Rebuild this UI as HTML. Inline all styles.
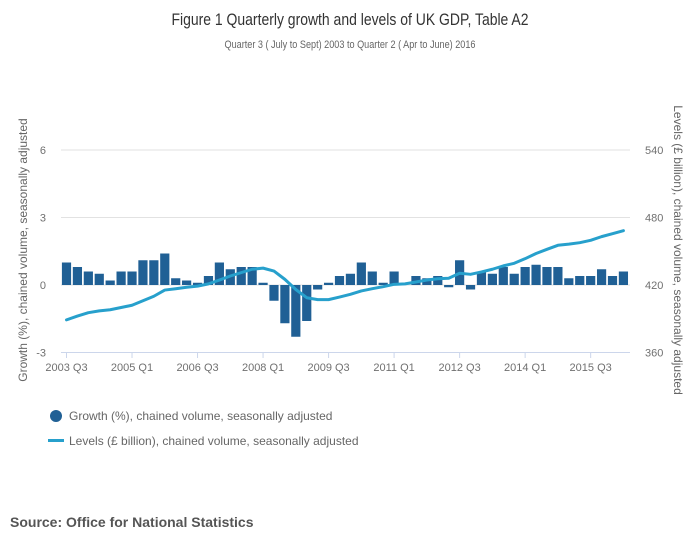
<!DOCTYPE html>
<html><head><meta charset="utf-8"><style>
body{margin:0;background:#fff;}
svg{display:block;font-family:"Liberation Sans",sans-serif;}
</style></head><body>
<svg id="chart" width="700" height="549" viewBox="0 0 700 549">
<text x="350" y="25" text-anchor="middle" font-size="16.5" fill="#333" textLength="357" lengthAdjust="spacingAndGlyphs">Figure 1 Quarterly growth and levels of UK GDP, Table A2</text>
<text x="350" y="48" text-anchor="middle" font-size="11" fill="#666" textLength="251" lengthAdjust="spacingAndGlyphs">Quarter 3 ( July to Sept) 2003 to Quarter 2 ( Apr to June) 2016</text>
<g id="grid"></g><g id="bars"></g><g id="line"></g><g id="axes"></g>
<text transform="translate(27,250) rotate(-90)" text-anchor="middle" font-size="12" fill="#666">Growth (%), chained volume, seasonally adjusted</text>
<text transform="translate(674,250) rotate(90)" text-anchor="middle" font-size="12" fill="#666">Levels (£ billion), chained volume, seasonally adjusted</text>
<g><circle cx="56" cy="416" r="6" fill="#206095"/><text x="69" y="420" font-size="12" fill="#666">Growth (%), chained volume, seasonally adjusted</text></g>
<g><rect x="48" y="439" width="16" height="3" fill="#27a0cc"/><text x="69" y="445" font-size="12" fill="#666">Levels (£ billion), chained volume, seasonally adjusted</text></g>
<text x="10" y="527" font-size="14" font-weight="bold" fill="#555">Source: Office for National Statistics</text>
</svg>
<script>
const growth=[1.0,0.8,0.6,0.5,0.2,0.6,0.6,1.1,1.1,1.4,0.3,0.2,0.1,0.4,1.0,0.7,0.8,0.8,0.1,-0.7,-1.7,-2.3,-1.6,-0.2,0.1,0.4,0.5,1.0,0.6,0.1,0.6,0.0,0.4,0.3,0.4,-0.1,1.1,-0.2,0.6,0.5,0.8,0.5,0.8,0.9,0.8,0.8,0.3,0.4,0.4,0.7,0.4,0.6];
const levels=[389,392.4,395.4,397,398,400,402,406,410,415.5,416.7,418,419,421,424.4,428,431,434,435,432.4,425,416,408.7,407,407,409.3,411.7,414.7,416.7,418.5,420.6,421,422.7,424.4,425.6,426,430.4,429.5,431.6,434,437,439.3,443.4,448,451.7,455.3,456.3,457.6,459.7,463,465.6,468.3];
const leftTicks=[-3,0,3,6];
const rightTicks=[360,420,480,540];
const xTickLabels=["2003 Q3","2005 Q1","2006 Q3","2008 Q1","2009 Q3","2011 Q1","2012 Q3","2014 Q1","2015 Q3"];
const NS="http://www.w3.org/2000/svg";
const X0=66.5,STEP=10.92;
const xs=i=>X0+i*STEP;
const yL=v=>285-v*22.5;
const yR=v=>285-(v-420)*1.125;
function mk(tag,attrs,parent){const e=document.createElementNS(NS,tag);for(const k in attrs)e.setAttribute(k,attrs[k]);document.getElementById(parent).appendChild(e);return e;}
leftTicks.forEach((t,k)=>{
  const y=yL(t);
  if(t!==-3){const g=mk('line',{x1:61,x2:630,y1:y,y2:y,stroke:'#e2e2e2','stroke-width':1},'grid');
  
  }
  const tl=mk('text',{x:46,y:y+4,'text-anchor':'end','font-size':11,fill:'#707070'},'axes');tl.textContent=t;
  
  
});
rightTicks.forEach(t=>{
  const tr=mk('text',{x:645,y:yR(t)+4,'font-size':11,fill:'#707070'},'axes');tr.textContent=t;
  
  
});
const ax=mk('line',{x1:61,x2:630,y1:352.5,y2:352.5,stroke:'#ccd6eb','stroke-width':1},'axes');


xTickLabels.forEach((l,k)=>{
  const x=xs(k*6);
  mk('line',{x1:x,x2:x,y1:352,y2:358,stroke:'#ccd6eb'},'axes');
  const t=mk('text',{x:x,y:371,'text-anchor':'middle','font-size':11,fill:'#707070'},'axes');t.textContent=l;
  
  
});
growth.forEach((v,i)=>{
  const y0=yL(0),y1=yL(v);
  const r=mk('rect',{x:xs(i)-4.6,width:9.2,y:Math.min(y0,y1),height:Math.max(Math.abs(y1-y0),0.01),fill:'#206095'},'bars');
  
  
});
const p=mk('polyline',{points:levels.map((v,i)=>xs(i)+','+yR(v)).join(' '),fill:'none',stroke:'#27a0cc','stroke-width':3,'stroke-linejoin':'round','stroke-linecap':'round'},'line');


</script>
</body></html>
